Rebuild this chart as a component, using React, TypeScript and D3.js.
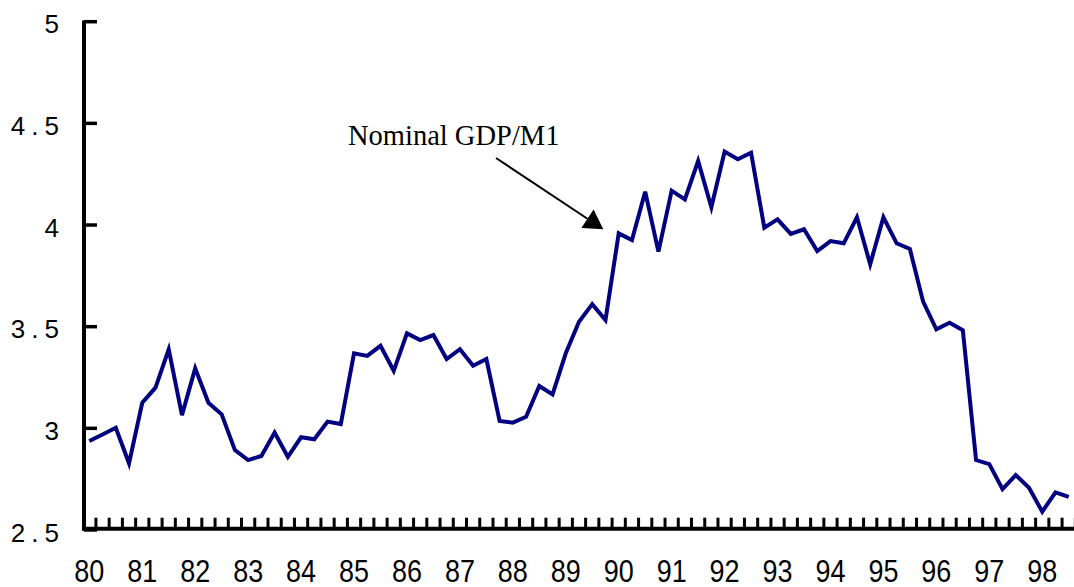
import * as d3 from "d3";

// Quarterly ratio of nominal GDP to M1, 1980Q1 onward
const years = ["80", "81", "82", "83", "84", "85", "86", "87", "88", "89", "90", "91", "92", "93", "94", "95", "96", "97", "98"];
const quarters = years.flatMap((y) => [1, 2, 3, 4].map((q) => `${y}Q${q}`));
const gdpM1 = [
  2.938, 2.97, 3.003, 2.828, 3.126, 3.2, 3.389, 3.065, 3.295, 3.126, 3.069, 2.893,
  2.844, 2.864, 2.979, 2.86, 2.956, 2.946, 3.033, 3.021, 3.369, 3.356, 3.406, 3.283,
  3.467, 3.434, 3.459, 3.341, 3.389, 3.308, 3.341, 3.036, 3.028, 3.057, 3.208, 3.167,
  3.369, 3.524, 3.611, 3.533, 3.959, 3.926, 4.164, 3.869, 4.169, 4.126, 4.315, 4.087,
  4.361, 4.323, 4.356, 3.987, 4.028, 3.956, 3.979, 3.872, 3.921, 3.91, 4.038, 3.807,
  4.038, 3.91, 3.882, 3.623, 3.487, 3.519, 3.483, 2.844, 2.824, 2.701, 2.77, 2.708,
  2.59, 2.685, 2.663,
];
const yTicks = [2.5, 3, 3.5, 4, 4.5, 5];
const annotation = "Nominal GDP/M1";

export default function App() {
  const width = 1074;
  const height = 587;
  const step = 13.235;
  const x0 = 82.7;

  const x = d3.scaleBand<string>().domain(quarters).range([x0, x0 + step * quarters.length]).padding(0);
  const y = d3.scaleLinear().domain([2.5, 5]).range([530, 21.7]);
  const cx = (q: string) => (x(q) ?? 0) + x.bandwidth() / 2;

  const line = d3
    .line<number>()
    .x((_, i) => cx(quarters[i]))
    .y((d) => y(d));

  const axisX = 84;
  const axisY = 528.7;

  // arrow pointing at the 1990 jump
  const from: [number, number] = [496, 158];
  const tip: [number, number] = [603.3, 229.3];
  const dx = tip[0] - from[0];
  const dy = tip[1] - from[1];
  const len = Math.hypot(dx, dy);
  const ux = dx / len;
  const uy = dy / len;
  const headLen = 19;
  const headHalf = 11;
  const bx = tip[0] - ux * headLen;
  const by = tip[1] - uy * headLen;
  const head = `M${tip[0]},${tip[1]} L${bx - uy * headHalf},${by + ux * headHalf} L${bx + uy * headHalf},${by - ux * headHalf} Z`;

  return (
    <svg
      width={width}
      height={height}
      style={{ position: "absolute", left: 0, top: 0, background: "#fff" }}
    >
      {/* y axis */}
      <line x1={axisX} x2={axisX} y1={20.5} y2={530.5} stroke="#000" strokeWidth={4} />
      {yTicks.map((t) => {
        const whole = t % 1 === 0;
        return (
          <g key={t}>
            <line x1={axisX} x2={97} y1={y(t)} y2={y(t)} stroke="#000" strokeWidth={3.5} />
            <text
              x={whole ? 59 : 65}
              y={y(t) + 11.5}
              textAnchor="end"
              fontFamily="'Liberation Sans', Arial, sans-serif"
              fontSize={26}
              letterSpacing={whole ? 0 : 6}
              fill="#000"
            >
              {String(t)}
            </text>
          </g>
        );
      })}

      {/* x axis */}
      <line x1={axisX - 2} x2={width} y1={axisY} y2={axisY} stroke="#000" strokeWidth={4} />
      {quarters.slice(1).map((q) => (
        <line key={q} x1={x(q)} x2={x(q)} y1={axisY} y2={axisY - 11} stroke="#000" strokeWidth={3} />
      ))}
      {years.map((yr) => (
        <text
          key={yr}
          transform={`translate(${cx(`${yr}Q1`)},${582}) scale(0.87,1)`}
          textAnchor="middle"
          fontFamily="'Liberation Sans', Arial, sans-serif"
          fontSize={31}
          fill="#000"
        >
          {yr}
        </text>
      ))}

      {/* series */}
      <path d={line(gdpM1) ?? ""} fill="none" stroke="#000080" strokeWidth={4} strokeLinejoin="miter" />

      {/* annotation */}
      <text x={348} y={145} fontFamily="'Liberation Serif', 'Times New Roman', serif" fontSize={28.5} fill="#000">
        {annotation}
      </text>
      <line x1={from[0]} y1={from[1]} x2={bx} y2={by} stroke="#000" strokeWidth={2} />
      <path d={head} fill="#000" />
    </svg>
  );
}
